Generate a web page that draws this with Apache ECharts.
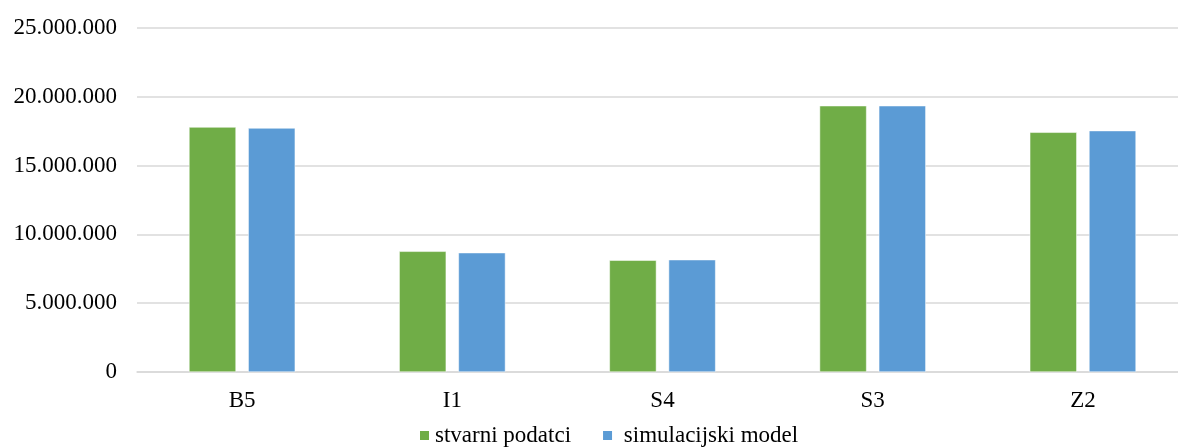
<!DOCTYPE html>
<html>
<head>
<meta charset="utf-8">
<script src="https://cdn.jsdelivr.net/npm/echarts@6/dist/echarts.min.js"></script>
<style>
html,body{margin:0;padding:0;background:#fff;}
#chart{width:1178px;height:448px;}
</style>
</head>
<body>
<div id="chart"></div>
<script>
var categories = ['B5', 'I1', 'S4', 'S3', 'Z2'];
var stvarniPodatci = [17800000, 8770000, 8120000, 19350000, 17420000];
var simulacijskiModel = [17730000, 8670000, 8160000, 19350000, 17540000];
var seriesNames = ['stvarni podatci', 'simulacijski model'];

function fmt(v) {
  return String(Math.round(v)).replace(/\B(?=(\d{3})+(?!\d))/g, '.');
}

var font = 'Liberation Serif, Times New Roman, serif';
var chart = echarts.init(document.getElementById('chart'), null, {renderer: 'canvas'});
chart.setOption({
  animation: false,
  backgroundColor: '#fff',
  textStyle: {fontFamily: font},
  grid: {left: 137, top: 28, right: -10, height: 344, containLabel: false, outerBoundsMode: 'none'},
  legend: {
    data: seriesNames,
    left: 418,
    top: 424,
    padding: 0,
    itemWidth: 11,
    itemHeight: 11,
    itemGap: 30,
    icon: 'rect',
    formatter: function (name) { return name === seriesNames[1] ? ' ' + name : name; },
    textStyle: {fontFamily: font, fontSize: 23, color: '#000'}
  },
  xAxis: {
    type: 'category',
    data: categories,
    axisLine: {lineStyle: {color: '#d9d9d9', width: 1.5}},
    axisTick: {show: false},
    axisLabel: {fontFamily: font, fontSize: 23, color: '#000', margin: 17}
  },
  yAxis: {
    type: 'value',
    min: 0,
    max: 25000000,
    interval: 5000000,
    axisLine: {show: false},
    axisTick: {show: false},
    splitLine: {lineStyle: {color: '#d9d9d9', width: 1.5}},
    axisLabel: {fontFamily: font, fontSize: 23, color: '#000', margin: 20, formatter: fmt}
  },
  series: [
    {
      name: seriesNames[0],
      type: 'bar',
      data: stvarniPodatci,
      barWidth: 47,
      barGap: '26%',
      itemStyle: {color: '#70AD47', borderColor: '#ffffff', borderWidth: 0.5}
    },
    {
      name: seriesNames[1],
      type: 'bar',
      data: simulacijskiModel,
      barWidth: 47,
      barGap: '26%',
      itemStyle: {color: '#5B9BD5', borderColor: '#ffffff', borderWidth: 0.5}
    }
  ]
});
</script>
</body>
</html>
